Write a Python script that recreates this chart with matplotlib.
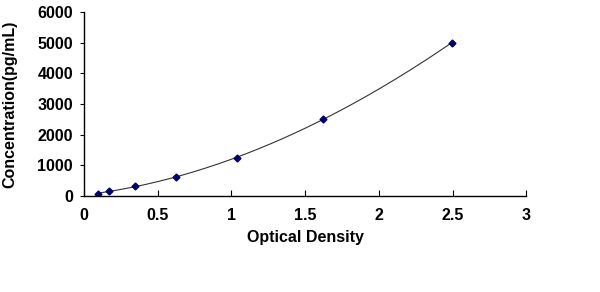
import numpy as np
import matplotlib
matplotlib.use("Agg")
import matplotlib.pyplot as plt

plt.rcParams['font.family'] = ['Liberation Sans', 'DejaVu Sans']

od = [0.097, 0.17, 0.348, 0.622, 1.041, 1.62, 2.496]
conc = [78, 156, 312, 625, 1250, 2500, 5000]
xticks = [0, 0.5, 1, 1.5, 2, 2.5, 3]
xtick_labels = ['0', '0.5', '1', '1.5', '2', '2.5', '3']
yticks = [0, 1000, 2000, 3000, 4000, 5000, 6000]

fig = plt.figure(figsize=(6, 2.92), dpi=100)
ax = fig.add_axes([0.14, 0.329, 0.737, 0.63])

coef = np.polyfit(od, conc, 3)
xs = np.linspace(min(od), max(od), 200)
ax.plot(xs, np.polyval(coef, xs), color='#333333', lw=0.8)
ax.plot(od, conc, linestyle='none', marker='D', markersize=3.5, color='#000066')

ax.set_xlim(0, 3)
ax.set_ylim(0, 6000)
ax.set_xticks(xticks)
ax.set_xticklabels(xtick_labels)
ax.set_yticks(yticks)
for s in ['top', 'right']:
    ax.spines[s].set_visible(False)
for s in ['left', 'bottom']:
    ax.spines[s].set_linewidth(1.0)
ax.tick_params(axis='x', direction='in', length=4, pad=9, labelsize=11.5)
ax.tick_params(axis='y', direction='out', length=3, pad=5, labelsize=11.5)
for lbl in ax.get_xticklabels() + ax.get_yticklabels():
    lbl.set_fontweight('bold')
ax.set_xlabel('Optical Density', fontsize=11.5, fontweight='bold', labelpad=5)
ax.set_ylabel('Concentration(pg/mL)', fontsize=11.5, fontweight='bold', labelpad=14)

fig.savefig('out.png', dpi=100)
